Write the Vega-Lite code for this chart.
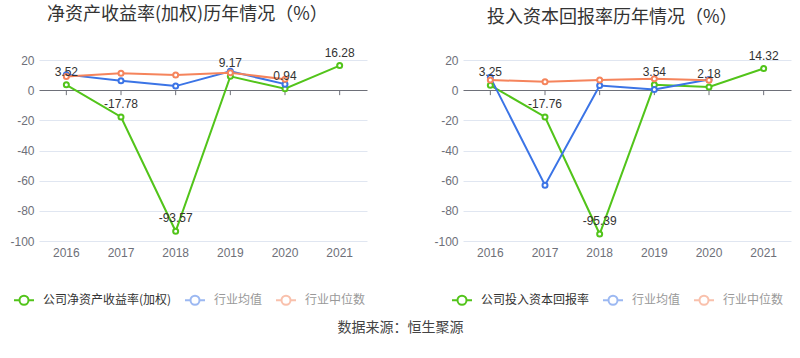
{
  "$schema": "https://vega.github.io/schema/vega-lite/v6.json",
  "background": "white",
  "padding": {"left": 9, "top": 5, "right": 5, "bottom": 5},
  "spacing": 66,
  "title": {"text": "数据来源：恒生聚源", "orient": "bottom", "anchor": "middle", "fontSize": 14, "fontWeight": "normal", "color": "#444", "offset": 12, "font": "Noto Sans CJK SC"},
  "config": {
    "font": "Liberation Sans, Noto Sans CJK SC, sans-serif",
    "locale": {"number": {"decimal": ".", "thousands": ",", "grouping": [3], "currency": ["", ""], "minus": "-"}},
    "view": {"stroke": null},
    "axis": {"labelFont": "Liberation Sans, Noto Sans CJK SC", "labelFontSize": 12, "labelColor": "#6e7079"},
    "legend": {"labelFont": "Noto Sans CJK SC", "labelFontSize": 12}
  },
  "resolve": {"scale": {"color": "independent"}, "legend": {"color": "independent"}},
  "datasets": {
    "roe": [
      {"year": "2016", "series": "公司净资产收益率(加权)", "value": 3.52},
      {"year": "2017", "series": "公司净资产收益率(加权)", "value": -17.78},
      {"year": "2018", "series": "公司净资产收益率(加权)", "value": -93.57},
      {"year": "2019", "series": "公司净资产收益率(加权)", "value": 9.17},
      {"year": "2020", "series": "公司净资产收益率(加权)", "value": 0.94},
      {"year": "2021", "series": "公司净资产收益率(加权)", "value": 16.28},
      {"year": "2016", "series": "行业均值", "value": 10.3},
      {"year": "2017", "series": "行业均值", "value": 6.3},
      {"year": "2018", "series": "行业均值", "value": 2.7},
      {"year": "2019", "series": "行业均值", "value": 12.5},
      {"year": "2020", "series": "行业均值", "value": 4.0},
      {"year": "2016", "series": "行业中位数", "value": 9.0},
      {"year": "2017", "series": "行业中位数", "value": 11.2},
      {"year": "2018", "series": "行业中位数", "value": 10.1},
      {"year": "2019", "series": "行业中位数", "value": 11.5},
      {"year": "2020", "series": "行业中位数", "value": 7.2}
    ],
    "roic": [
      {"year": "2016", "series": "公司投入资本回报率", "value": 3.25},
      {"year": "2017", "series": "公司投入资本回报率", "value": -17.76},
      {"year": "2018", "series": "公司投入资本回报率", "value": -95.39},
      {"year": "2019", "series": "公司投入资本回报率", "value": 3.54},
      {"year": "2020", "series": "公司投入资本回报率", "value": 2.18},
      {"year": "2021", "series": "公司投入资本回报率", "value": 14.32},
      {"year": "2016", "series": "行业均值", "value": 8.5},
      {"year": "2017", "series": "行业均值", "value": -63.0},
      {"year": "2018", "series": "行业均值", "value": 3.1},
      {"year": "2019", "series": "行业均值", "value": 0.4},
      {"year": "2020", "series": "行业均值", "value": 7.0},
      {"year": "2016", "series": "行业中位数", "value": 6.7},
      {"year": "2017", "series": "行业中位数", "value": 5.6},
      {"year": "2018", "series": "行业中位数", "value": 6.7},
      {"year": "2019", "series": "行业中位数", "value": 7.6},
      {"year": "2020", "series": "行业中位数", "value": 6.5}
    ]
  },
  "hconcat": [
    {
      "width": 328,
      "height": 181,
      "data": {"name": "roe"},
      "title": {"text": "净资产收益率(加权)历年情况（%）", "anchor": "start", "frame": "group", "dx": 8, "fontSize": 18, "fontWeight": "normal", "color": "#333", "font": "Noto Sans CJK SC", "offset": 23},
      "encoding": {
        "x": {"field": "year", "type": "ordinal", "scale": {"paddingInner": 0, "paddingOuter": 0}, "axis": {"title": null, "domain": false, "ticks": false, "labelAngle": 0, "labelPadding": 6}},
        "y": {"field": "value", "type": "quantitative", "scale": {"domain": [-100, 20], "nice": false, "zero": false}, "axis": {"title": null, "values": [-100, -80, -60, -40, -20, 0, 20], "domain": false, "ticks": false, "labelPadding": 5, "gridColor": {"condition": {"test": "datum.value === 0", "value": "#6e7079"}, "value": "#e0e6f1"}}}
      },
      "layer": [
        {
          "transform": [{"filter": "indexof(datum.series, '公司') === 0"}],
          "mark": {"type": "rule", "color": "#6e7079"},
          "encoding": {"y": {"datum": 0}, "y2": {"datum": -3.3}}
        },
        {
          "mark": {"type": "line", "strokeWidth": 2},
          "encoding": {
            "color": {"field": "series", "type": "nominal", "sort": ["公司净资产收益率(加权)", "行业均值", "行业中位数"], "scale": {"domain": ["公司净资产收益率(加权)", "行业均值", "行业中位数"], "range": ["#52c41a", "#3b74e6", "#f5845c"]},
              "legend": {"title": null, "orient": "none", "legendX": -26, "legendY": 229, "direction": "horizontal", "symbolType": "M-1,0L-0.45,0M0.45,0L1,0M0.45,0A0.45,0.45,0,1,1,-0.45,0A0.45,0.45,0,1,1,0.45,0", "symbolSize": 400, "symbolStrokeWidth": 2, "symbolFillColor": "#ffffff", "labelOffset": 8, "columnPadding": 9, "labelColor": "#333",
                "encode": {"labels": {"update": {"fill": {"signal": "indexof(datum.label, '公司') === 0 ? '#333333' : '#999999'"}}}, "symbols": {"update": {"opacity": {"signal": "indexof(datum.label, '公司') === 0 ? 1 : 0.5"}}}}}
            }
          }
        },
        {
          "mark": {"type": "point", "filled": false, "fill": "white", "fillOpacity": 1, "size": 25, "strokeWidth": 2, "opacity": 1},
          "encoding": {"color": {"field": "series", "type": "nominal", "legend": null}}
        },
        {
          "transform": [{"filter": "indexof(datum.series, '公司') === 0"}],
          "mark": {"type": "text", "baseline": "bottom", "dy": -6, "fontSize": 12, "color": "#333", "font": "Liberation Sans"},
          "encoding": {"text": {"field": "value", "type": "quantitative", "format": ".2f"}}
        }
      ]
    },
    {
      "width": 328,
      "height": 181,
      "data": {"name": "roic"},
      "title": {"text": "投入资本回报率历年情况（%）", "anchor": "start", "frame": "group", "dx": 24, "fontSize": 18, "fontWeight": "normal", "color": "#333", "font": "Noto Sans CJK SC", "offset": 23},
      "encoding": {
        "x": {"field": "year", "type": "ordinal", "scale": {"paddingInner": 0, "paddingOuter": 0}, "axis": {"title": null, "domain": false, "ticks": false, "labelAngle": 0, "labelPadding": 6}},
        "y": {"field": "value", "type": "quantitative", "scale": {"domain": [-100, 20], "nice": false, "zero": false}, "axis": {"title": null, "values": [-100, -80, -60, -40, -20, 0, 20], "domain": false, "ticks": false, "labelPadding": 5, "gridColor": {"condition": {"test": "datum.value === 0", "value": "#6e7079"}, "value": "#e0e6f1"}}}
      },
      "layer": [
        {
          "transform": [{"filter": "indexof(datum.series, '公司') === 0"}],
          "mark": {"type": "rule", "color": "#6e7079"},
          "encoding": {"y": {"datum": 0}, "y2": {"datum": -3.3}}
        },
        {
          "mark": {"type": "line", "strokeWidth": 2},
          "encoding": {
            "color": {"field": "series", "type": "nominal", "sort": ["公司投入资本回报率", "行业均值", "行业中位数"], "scale": {"domain": ["公司投入资本回报率", "行业均值", "行业中位数"], "range": ["#52c41a", "#3b74e6", "#f5845c"]},
              "legend": {"title": null, "orient": "none", "legendX": -12, "legendY": 229, "direction": "horizontal", "symbolType": "M-1,0L-0.45,0M0.45,0L1,0M0.45,0A0.45,0.45,0,1,1,-0.45,0A0.45,0.45,0,1,1,0.45,0", "symbolSize": 400, "symbolStrokeWidth": 2, "symbolFillColor": "#ffffff", "labelOffset": 8, "columnPadding": 9, "labelColor": "#333",
                "encode": {"labels": {"update": {"fill": {"signal": "indexof(datum.label, '公司') === 0 ? '#333333' : '#999999'"}}}, "symbols": {"update": {"opacity": {"signal": "indexof(datum.label, '公司') === 0 ? 1 : 0.5"}}}}}
            }
          }
        },
        {
          "mark": {"type": "point", "filled": false, "fill": "white", "fillOpacity": 1, "size": 25, "strokeWidth": 2, "opacity": 1},
          "encoding": {"color": {"field": "series", "type": "nominal", "legend": null}}
        },
        {
          "transform": [{"filter": "indexof(datum.series, '公司') === 0"}],
          "mark": {"type": "text", "baseline": "bottom", "dy": -6, "fontSize": 12, "color": "#333", "font": "Liberation Sans"},
          "encoding": {"text": {"field": "value", "type": "quantitative", "format": ".2f"}}
        }
      ]
    }
  ]
}
